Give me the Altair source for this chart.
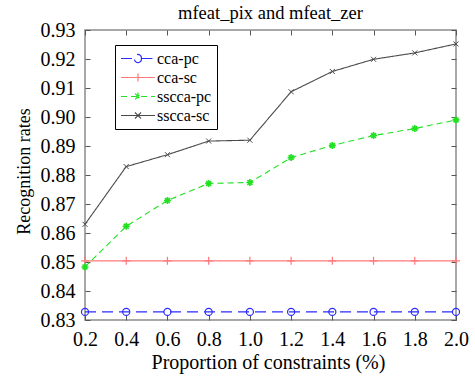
import altair as alt
import pandas as pd

proportion = [0.2, 0.4, 0.6, 0.8, 1.0, 1.2, 1.4, 1.6, 1.8, 2.0]
cca_pc = [0.8328, 0.8328, 0.8328, 0.8328, 0.8328, 0.8328, 0.8328, 0.8328, 0.8328, 0.8328]
cca_sc = [0.8504, 0.8504, 0.8504, 0.8504, 0.8504, 0.8504, 0.8504, 0.8504, 0.8504, 0.8504]
sscca_pc = [0.8483, 0.8623, 0.8712, 0.8771, 0.8774, 0.8860, 0.8902, 0.8936, 0.8960, 0.8990]
sscca_sc = [0.8630, 0.8829, 0.8870, 0.8917, 0.8920, 0.9087, 0.9157, 0.9199, 0.9221, 0.9252]

series_names = ["cca-pc", "cca-sc", "sscca-pc", "sscca-sc"]
series_values = [cca_pc, cca_sc, sscca_pc, sscca_sc]
series_colors = ["#2b2bff", "#ff7a7a", "#22e022", "#4a4a4a"]
series_dashes = [[11, 6], [1, 0], [6, 4], [1, 0]]

x_ticks = [0.2, 0.4, 0.6, 0.8, 1.0, 1.2, 1.4, 1.6, 1.8, 2.0]
y_ticks = [0.83, 0.84, 0.85, 0.86, 0.87, 0.88, 0.89, 0.90, 0.91, 0.92, 0.93]

rows = []
for name, vals in zip(series_names, series_values):
    for p, v in zip(proportion, vals):
        rows.append({"proportion": p, "rate": v, "series": name})
df = pd.DataFrame(rows)

FONT = "Liberation Serif"
W, H = 371, 290

xs = alt.Scale(domain=[0.2, 2.0], nice=False, zero=False)
ys = alt.Scale(domain=[0.83, 0.93], nice=False, zero=False)
color_scale = alt.Scale(domain=series_names, range=series_colors)

common_axis = dict(grid=False, domain=False, tickSize=5, offset=-5,
                   tickColor="#555555", tickWidth=1)

# legend symbols: a line with the series marker on it (unit = sqrt(size)/2 px)
legend_paths = [
    "M-1,0H0.8M1.73,0H3.53M1.73,0A0.47,0.47 0 1,1 0.8,0A0.47,0.47 0 1,1 1.73,0",
    "M-1,0H3.53M1.267,-0.53V0.53",
    "M-1,0H3.53M1.267,-0.53V0.53M0.887,-0.38L1.647,0.38M0.887,0.38L1.647,-0.38",
    "M-1,0H3.53M0.867,-0.4L1.667,0.4M0.867,0.4L1.667,-0.4",
]

leg = dict(title=None,
           orient="none", legendX=30, legendY=15,
           fillColor="white", strokeColor="black", padding=5,
           labelFont=FONT, labelFontSize=16, labelColor="black",
           symbolSize=225, symbolStrokeWidth=1.2, symbolOpacity=1,
           labelOffset=20, rowPadding=2,
           labelExpr="datum.label + '\u00a0\u00a0\u00a0\u00a0\u00a0'")

# invisible layer that carries the legend and the top/right tick axes
legend_layer = alt.Chart(df).mark_point(filled=False, opacity=0).encode(
    x=alt.X("proportion:Q", scale=xs,
            axis=alt.Axis(orient="top", values=x_ticks, labels=False, title=None,
                          **common_axis)),
    y=alt.Y("rate:Q", scale=ys,
            axis=alt.Axis(orient="right", values=y_ticks, labels=False, title=None,
                          **common_axis)),
    color=alt.Color("series:N", scale=color_scale, legend=alt.Legend(**leg)),
    shape=alt.Shape("series:N",
                    scale=alt.Scale(domain=series_names, range=legend_paths),
                    legend=alt.Legend(**leg)),
)

lines = alt.Chart(df).mark_line(strokeWidth=1.1).encode(
    x=alt.X("proportion:Q", scale=xs,
            axis=alt.Axis(orient="bottom", values=x_ticks, format=".1f",
                          title="Proportion of constraints (%)",
                          labelPadding=9, labelFlush=False, labelOverlap=False,
                          titleX=183, titleY=53, titleBaseline="alphabetic",
                          titleAnchor="middle", **common_axis)),
    y=alt.Y("rate:Q", scale=ys,
            axis=alt.Axis(orient="left", values=y_ticks, format=".2f",
                          title="Recognition rates", titleFontSize=18,
                          labelPadding=10, labelFlush=False, labelOverlap=False,
                          titleX=-61, titleY=141, titleAngle=270,
                          titleBaseline="alphabetic", titleAlign="center",
                          **common_axis)),
    color=alt.Color("series:N", scale=color_scale),
    strokeDash=alt.StrokeDash("series:N",
                              scale=alt.Scale(domain=series_names, range=series_dashes),
                              legend=None),
)

marker_shapes = [
    "circle",
    "M-1,0H1M0,-1V1",
    "M-1,0H1M0,-1V1M-0.7,-0.7L0.7,0.7M-0.7,0.7L0.7,-0.7",
    "M-1,-1L1,1M-1,1L1,-1",
]
marker_sizes = [50, 64, 49, 25]
marker_widths = [1.2, 1.2, 1.6, 1.0]

point_layers = []
for name, shp, sz, sw, col in zip(series_names, marker_shapes, marker_sizes,
                                  marker_widths, series_colors):
    point_layers.append(
        alt.Chart(df).transform_filter(alt.datum.series == name)
        .mark_point(shape=shp, filled=False, size=sz, strokeWidth=sw, color=col,
                    opacity=1)
        .encode(
            x=alt.X("proportion:Q", scale=xs, axis=None),
            y=alt.Y("rate:Q", scale=ys, axis=None),
        )
    )

chart = alt.layer(legend_layer, lines, *point_layers).properties(
    width=W, height=H,
    title=alt.Title("mfeat_pix and mfeat_zer", font=FONT, fontSize=18.5,
                    fontWeight="normal", color="black", anchor="middle",
                    baseline="alphabetic", offset=-17),
    autosize=alt.AutoSizeParams(type="none"),
    padding={"left": 85, "top": 30, "right": 19, "bottom": 57},
).configure_view(
    stroke="#8c8c8c", strokeWidth=1.5
).configure_axis(
    labelFont=FONT, labelFontSize=20, labelColor="black",
    titleFont=FONT, titleFontSize=20, titleFontWeight="normal", titleColor="black",
).configure_legend(
    labelFont=FONT, labelFontSize=16, labelColor="black",
)

chart.save("out.html", embed_options={"renderer": "svg", "actions": False})
